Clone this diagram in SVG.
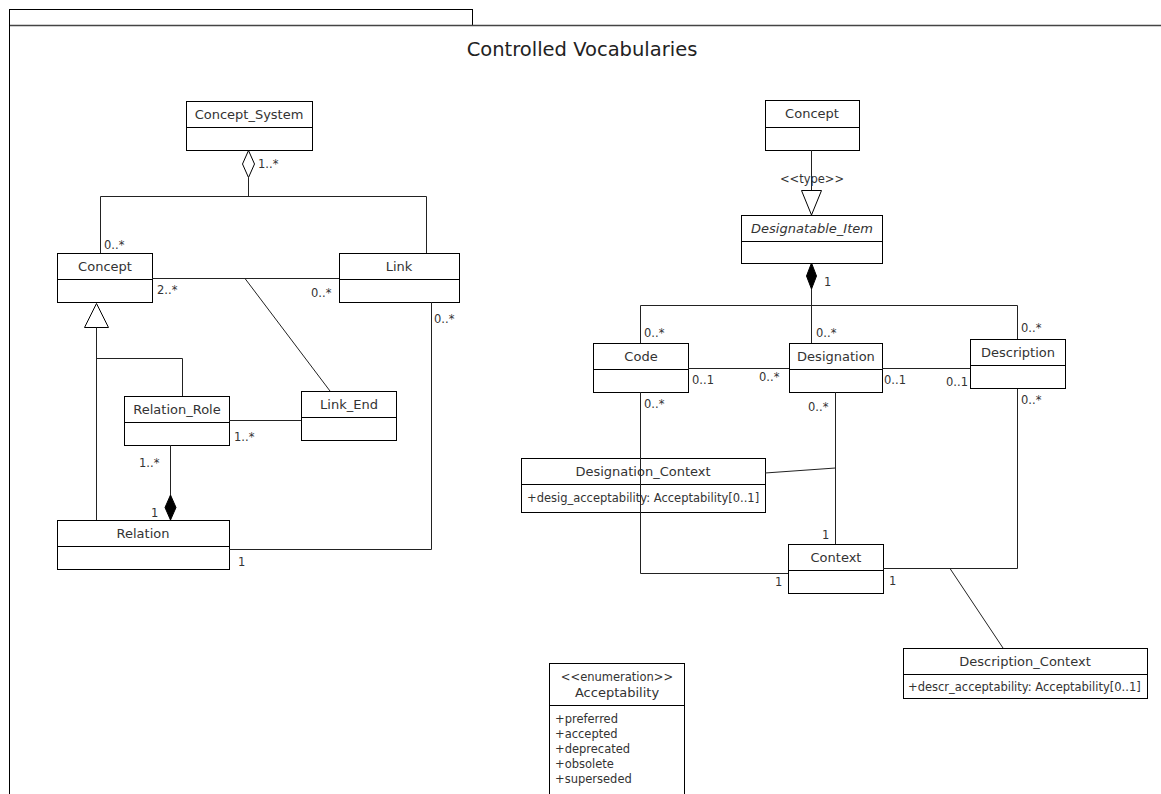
<svg xmlns="http://www.w3.org/2000/svg" width="1161" height="794" viewBox="0 0 1161 794">
<style>
  .box { fill: #fff; stroke: #000; stroke-width: 1; }
  .ln { fill: none; stroke: #000; stroke-width: 1; }
  .conn { fill: none; stroke: #222; stroke-width: 1; }
  .name { font-family: "DejaVu Sans", sans-serif; font-size: 13px; fill: #333; text-anchor: middle; }
  .ital { font-style: italic; }
  .attr { font-family: "DejaVu Sans", sans-serif; font-size: 11.5px; fill: #333; }
  .mult { font-family: "DejaVu Sans", sans-serif; font-size: 11.5px; fill: #333; }
  .title { font-family: "DejaVu Sans", sans-serif; font-size: 19.5px; fill: #222; text-anchor: middle; }
</style>
<rect x="0" y="0" width="1161" height="794" fill="#fff"/>
<g id="frame">
  <rect x="9.5" y="9.5" width="463" height="16" fill="none" stroke="#000"/>
  <line x1="9.5" y1="25.5" x2="1161" y2="25.5" stroke="#444" stroke-width="1.5"/>
  <line x1="9.5" y1="9.5" x2="9.5" y2="794" stroke="#000"/>
  <text class="title" x="582" y="56">Controlled Vocabularies</text>
</g>

<g id="node-concept-system">
  <rect class="box" x="186.5" y="101.5" width="126" height="49"/>
  <line class="ln" x1="186.5" y1="127.5" x2="312.5" y2="127.5"/>
  <text class="name" x="249" y="119">Concept_System</text>
</g>
<g id="node-concept-left">
  <rect class="box" x="57.5" y="253.5" width="95" height="49"/>
  <line class="ln" x1="57.5" y1="279.5" x2="152.5" y2="279.5"/>
  <text class="name" x="105" y="271">Concept</text>
</g>
<g id="node-link">
  <rect class="box" x="339.5" y="253.5" width="120" height="49"/>
  <line class="ln" x1="339.5" y1="279.5" x2="459.5" y2="279.5"/>
  <text class="name" x="399" y="271">Link</text>
</g>
<g id="node-relation-role">
  <rect class="box" x="124.5" y="396.5" width="105" height="49"/>
  <line class="ln" x1="124.5" y1="422.5" x2="229.5" y2="422.5"/>
  <text class="name" x="177" y="414">Relation_Role</text>
</g>
<g id="node-link-end">
  <rect class="box" x="301.5" y="391.5" width="95" height="49"/>
  <line class="ln" x1="301.5" y1="417.5" x2="396.5" y2="417.5"/>
  <text class="name" x="349" y="409">Link_End</text>
</g>
<g id="node-relation">
  <rect class="box" x="57.5" y="520.5" width="172" height="49"/>
  <line class="ln" x1="57.5" y1="546.5" x2="229.5" y2="546.5"/>
  <text class="name" x="143" y="538">Relation</text>
</g>

<g id="node-concept-right">
  <rect class="box" x="765.5" y="100.5" width="94" height="50"/>
  <line class="ln" x1="765.5" y1="127.5" x2="859.5" y2="127.5"/>
  <text class="name" x="812" y="118">Concept</text>
</g>
<g id="node-designatable-item">
  <rect class="box" x="741.5" y="215.5" width="141" height="48"/>
  <line class="ln" x1="741.5" y1="241.5" x2="882.5" y2="241.5"/>
  <text class="name ital" x="812" y="233">Designatable_Item</text>
</g>
<g id="node-code">
  <rect class="box" x="593.5" y="343.5" width="95" height="49"/>
  <line class="ln" x1="593.5" y1="369.5" x2="688.5" y2="369.5"/>
  <text class="name" x="641" y="361">Code</text>
</g>
<g id="node-designation">
  <rect class="box" x="789.5" y="343.5" width="93" height="49"/>
  <line class="ln" x1="789.5" y1="369.5" x2="882.5" y2="369.5"/>
  <text class="name" x="836" y="361">Designation</text>
</g>
<g id="node-description">
  <rect class="box" x="970.5" y="339.5" width="95" height="49"/>
  <line class="ln" x1="970.5" y1="365.5" x2="1065.5" y2="365.5"/>
  <text class="name" x="1018" y="357">Description</text>
</g>
<g id="node-designation-context">
  <rect class="box" x="521.5" y="458.5" width="244" height="54"/>
  <line class="ln" x1="521.5" y1="484.5" x2="765.5" y2="484.5"/>
  <text class="name" x="643" y="476">Designation_Context</text>
  <text class="attr" x="527" y="502">+desig_acceptability: Acceptability[0..1]</text>
</g>
<g id="node-context">
  <rect class="box" x="788.5" y="544.5" width="95" height="49"/>
  <line class="ln" x1="788.5" y1="570.5" x2="883.5" y2="570.5"/>
  <text class="name" x="836" y="562">Context</text>
</g>
<g id="node-description-context">
  <rect class="box" x="903.5" y="648.5" width="244" height="50"/>
  <line class="ln" x1="903.5" y1="674.5" x2="1147.5" y2="674.5"/>
  <text class="name" x="1025" y="666">Description_Context</text>
  <text class="attr" x="908" y="691">+descr_acceptability: Acceptability[0..1]</text>
</g>
<g id="node-acceptability">
  <rect class="box" x="549.5" y="663.5" width="135" height="140"/>
  <line class="ln" x1="549.5" y1="705.5" x2="684.5" y2="705.5"/>
  <text class="attr" x="617" y="681" text-anchor="middle">&lt;&lt;enumeration&gt;&gt;</text>
  <text class="name" x="617" y="697">Acceptability</text>
  <text class="attr" x="555" y="723">+preferred</text>
  <text class="attr" x="555" y="738">+accepted</text>
  <text class="attr" x="555" y="753">+deprecated</text>
  <text class="attr" x="555" y="768">+obsolete</text>
  <text class="attr" x="555" y="783">+superseded</text>
</g>

<g id="connectors">
  <!-- left diagram -->
  <polygon points="248.5,150.5 242.5,164 248.5,177.5 254.5,164" fill="#fff" stroke="#000"/>
  <polyline class="conn" points="248.5,177.5 248.5,196.5"/>
  <polyline class="conn" points="100.5,253 100.5,196.5 426.5,196.5 426.5,253"/>
  <text class="mult" x="258" y="168">1..*</text>
  <text class="mult" x="104" y="249">0..*</text>

  <line class="conn" x1="152" y1="278.5" x2="339" y2="278.5"/>
  <text class="mult" x="157" y="294">2..*</text>
  <text class="mult" x="311" y="297">0..*</text>
  <line class="conn" x1="245" y1="278.5" x2="330" y2="391"/>

  <polyline class="conn" points="431.5,302 431.5,549.5 229,549.5"/>
  <text class="mult" x="434" y="323">0..*</text>
  <text class="mult" x="238" y="566">1</text>

  <polygon points="96.5,303.5 84.5,327.5 108.5,327.5" fill="#fff" stroke="#000"/>
  <line class="conn" x1="96.5" y1="327.5" x2="96.5" y2="520"/>
  <polyline class="conn" points="96.5,358.5 182.5,358.5 182.5,396"/>

  <line class="conn" x1="229" y1="420.5" x2="301" y2="420.5"/>
  <text class="mult" x="234" y="441">1..*</text>

  <line class="conn" x1="170.5" y1="445" x2="170.5" y2="495"/>
  <polygon points="170.5,495 165,507.5 170.5,520 176,507.5" fill="#000" stroke="#000"/>
  <text class="mult" x="139" y="467">1..*</text>
  <text class="mult" x="151" y="517">1</text>

  <!-- right diagram -->
  <line class="conn" x1="811.5" y1="150" x2="811.5" y2="190.5"/>
  <polygon points="801.5,190.5 821.5,190.5 811.5,215" fill="#fff" stroke="#000"/>
  <text class="mult" x="812" y="183" text-anchor="middle">&lt;&lt;type&gt;&gt;</text>

  <polygon points="811.5,263 806.5,276 811.5,289 816.5,276" fill="#000" stroke="#000"/>
  <text class="mult" x="824" y="286">1</text>
  <line class="conn" x1="811.5" y1="289" x2="811.5" y2="343"/>
  <polyline class="conn" points="640.5,343 640.5,305.5 1017.5,305.5 1017.5,339"/>
  <text class="mult" x="644" y="337">0..*</text>
  <text class="mult" x="816" y="337">0..*</text>
  <text class="mult" x="1021" y="332">0..*</text>

  <line class="conn" x1="688" y1="368.5" x2="789" y2="368.5"/>
  <text class="mult" x="692" y="384">0..1</text>
  <text class="mult" x="759" y="381">0..*</text>
  <line class="conn" x1="882" y1="368.5" x2="970" y2="368.5"/>
  <text class="mult" x="884" y="384">0..1</text>
  <text class="mult" x="946" y="386">0..1</text>

  <polyline class="conn" points="640.5,392 640.5,573.5 788,573.5"/>
  <text class="mult" x="644" y="408">0..*</text>
  <text class="mult" x="775" y="586">1</text>

  <line class="conn" x1="835.5" y1="392" x2="835.5" y2="544"/>
  <text class="mult" x="808" y="411">0..*</text>
  <text class="mult" x="822" y="539">1</text>
  <line class="conn" x1="765" y1="473" x2="835.5" y2="468"/>

  <polyline class="conn" points="883,568.5 1017.5,568.5 1017.5,389"/>
  <text class="mult" x="1021" y="404">0..*</text>
  <text class="mult" x="889" y="585">1</text>
  <line class="conn" x1="950" y1="568.5" x2="1003" y2="648"/>
</g>
</svg>
